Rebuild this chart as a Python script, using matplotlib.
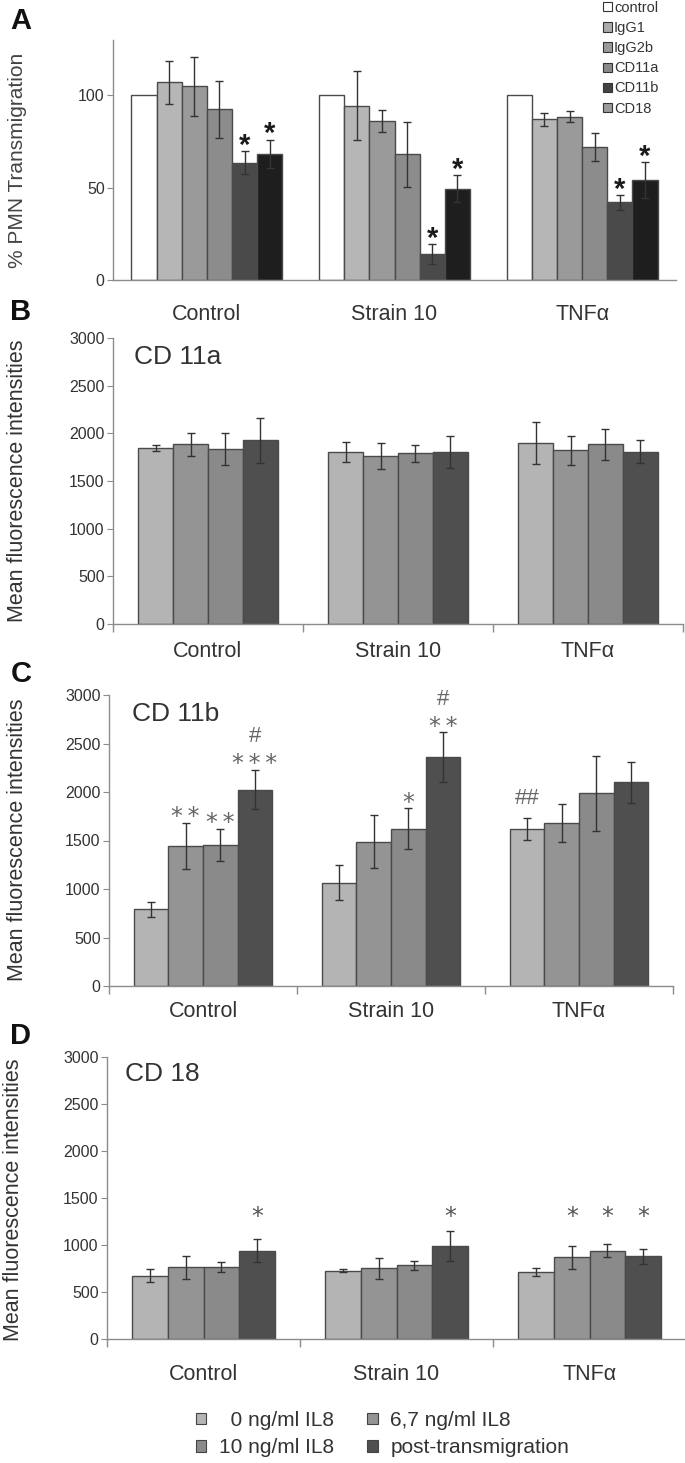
import matplotlib
matplotlib.use("Agg")
import matplotlib.pyplot as plt
from matplotlib.patches import Patch
import numpy as np

plt.rcParams['font.family'] = ['Liberation Sans', 'DejaVu Sans']

# ---------------- data ----------------
groups = ["Control", "Strain 10", "TNF\u03b1"]

# Panel A: % PMN transmigration
a_series = ["control", "IgG1", "IgG2b", "CD11a", "CD11b", "CD18"]
a_vals = [
    [100, 100, 100],        # control
    [107, 94.5, 87],        # IgG1
    [105, 86, 88.5],        # IgG2b
    [92.5, 68, 72],         # CD11a
    [63.5, 14, 42],         # CD11b
    [68.5, 49.5, 54],       # CD18
]
a_err = [
    [0, 0, 0],
    [11.5, 18.5, 3.5],
    [16, 6, 2.8],
    [15.5, 17.5, 7.5],
    [6.3, 5.3, 4],
    [7.6, 7.3, 9.8],
]
a_marks = [
    ["", "", ""],
    ["", "", ""],
    ["", "", ""],
    ["", "", ""],
    ["*", "*", "*"],
    ["*", "*", "*"],
]

series_il8 = ["0 ng/ml IL8", "6,7 ng/ml IL8", "10 ng/ml IL8", "post-transmigration"]

# Panel B: CD 11a
b_vals = [[1845, 1806, 1900], [1885, 1765, 1820], [1838, 1792, 1885], [1925, 1806, 1806]]
b_err = [[35, 105, 220], [120, 135, 150], [165, 90, 165], [235, 165, 120]]

# Panel C: CD 11b
c_vals = [[790, 1065, 1618], [1443, 1488, 1680], [1458, 1622, 1988], [2025, 2356, 2100]]
c_err = [[80, 180, 112], [238, 275, 195], [165, 208, 385], [205, 258, 212]]
c_stars = [["", "", ""], ["**", "", ""], ["**", "*", ""], ["***", "**", ""]]
c_hash = [["", "", "##"], ["", "", ""], ["", "", ""], ["#", "#", ""]]

# Panel D: CD 18
d_vals = [[675, 728, 713], [762, 752, 868], [765, 785, 940], [940, 990, 878]]
d_err = [[68, 15, 42], [125, 115, 122], [55, 50, 68], [120, 155, 78]]
d_marks = [["", "", ""], ["", "", "*"], ["", "", "*"], ["*", "*", "*"]]

# ---------------- style ----------------
W, H = 685, 1463
fig = plt.figure(figsize=(W / 100, H / 100), dpi=100)
TXT = '#333333'
SPINE = '#8c8c8c'
EDGE = '#4a4a4a'
ANN = '#666666'
a_colors = ['#ffffff', '#b6b6b6', '#9a9a9a', '#8c8c8c', '#4a4a4a', '#1e1e1e']
a_leg_colors = ['#ffffff', '#ababab', '#9a9a9a', '#8a8a8a', '#444444', '#9a9a9a']
il8_colors = ['#b4b4b4', '#949494', '#8a8a8a', '#4f4f4f']
STAR_FAMILY = ['DejaVu Sans']


def spaced(s):
    return '\u2009'.join(s)


def add_axes(left, right, top, bottom):
    return fig.add_axes([left / W, 1 - bottom / H, (right - left) / W, (bottom - top) / H])


def style_axes(ax, seps=True):
    for s in ['top', 'right']:
        ax.spines[s].set_visible(False)
    for s in ['left', 'bottom']:
        ax.spines[s].set_color(SPINE)
        ax.spines[s].set_linewidth(1.0)
    ax.set_xlim(-0.5, 2.5)
    ax.set_xticks(np.arange(len(groups)))
    ax.tick_params(axis='x', which='major', length=0, labelsize=15.5, colors=TXT)
    if seps:
        ax.set_xticks([-0.5, 0.5, 1.5, 2.5], minor=True)
        ax.tick_params(axis='x', which='minor', length=6, color=SPINE, width=1.0)
    ax.tick_params(axis='y', length=4, color=SPINE, labelsize=11.5, colors=TXT, pad=2)


x = np.arange(len(groups))

# ---------------- Panel A ----------------
axA = add_axes(113, 676, 40, 280)
nA = len(a_series)
wA = 0.134
for i in range(nA):
    xs = x + (i - (nA - 1) / 2) * wA
    axA.bar(xs, a_vals[i], wA, color=a_colors[i], edgecolor=EDGE, linewidth=1.0, zorder=2)
    errs = np.array(a_err[i])
    mask = errs > 0
    axA.errorbar(xs[mask], np.array(a_vals[i])[mask], yerr=errs[mask], fmt='none',
                 ecolor='#333333', elinewidth=1.0, capsize=3, capthick=1.0, zorder=3)
    for g in range(len(groups)):
        if a_marks[i][g]:
            axA.annotate(a_marks[i][g], (xs[g], a_vals[i][g] + a_err[i][g]),
                         xytext=(0, -2), textcoords='offset points', ha='center',
                         va='baseline', fontsize=21, fontweight='bold', color='#1a1a1a')
axA.set_ylim(0, 130)
axA.set_yticks([0, 50, 100])
style_axes(axA, seps=False)
axA.set_xticklabels(groups)
axA.tick_params(axis='x', pad=17)
fig.text(18 / W, 1 - 160 / H, "% PMN Transmigration", rotation=90, ha='center', va='center',
         fontsize=15, color='#444444')
handles = [Patch(facecolor=a_leg_colors[i], edgecolor='#333333', linewidth=0.8, label=a_series[i])
           for i in range(nA)]
fig.legend(handles=handles, loc='upper left', bbox_to_anchor=(603 / W, 1 - 1 / H), frameon=False,
           fontsize=10.5, handlelength=0.6, handleheight=0.6, handletextpad=0.15, labelspacing=0.42,
           labelcolor=TXT, borderaxespad=0, borderpad=0)


def il8_panel(ax, vals, errs):
    n = len(vals)
    w = 0.184
    pos = []
    for i in range(n):
        xs = x + (i - (n - 1) / 2) * w
        pos.append(xs)
        ax.bar(xs, vals[i], w, color=il8_colors[i], edgecolor=EDGE, linewidth=1.0, zorder=2)
        ax.errorbar(xs, vals[i], yerr=errs[i], fmt='none', ecolor='#333333', elinewidth=1.0,
                    capsize=3, capthick=1.0, zorder=3)
    ax.set_ylim(0, 3000)
    ax.set_yticks(np.arange(0, 3001, 500))
    style_axes(ax)
    ax.set_xticklabels(groups)
    return pos


# ---------------- Panel B ----------------
axB = add_axes(113, 683, 338, 624)
il8_panel(axB, b_vals, b_err)
axB.tick_params(axis='x', pad=12)
fig.text(134 / W, 1 - 357 / H, "CD 11a", ha='left', va='center', fontsize=19, color='#333333')
fig.text(18 / W, 1 - 481 / H, "Mean fluorescence intensities", rotation=90, ha='center',
         va='center', fontsize=15.5, color=TXT)

# ---------------- Panel C ----------------
axC = add_axes(109, 673, 695, 986)
posC = il8_panel(axC, c_vals, c_err)
axC.tick_params(axis='x', pad=11)
for i in range(len(c_vals)):
    for g in range(len(groups)):
        top = c_vals[i][g] + c_err[i][g]
        if c_stars[i][g]:
            axC.annotate(spaced(c_stars[i][g]), (posC[i][g], top), xytext=(0, -1),
                         textcoords='offset points', ha='center', va='baseline', fontsize=17,
                         color=ANN, family=STAR_FAMILY)
            if c_hash[i][g]:
                axC.annotate(c_hash[i][g], (posC[i][g], top), xytext=(0, 20),
                             textcoords='offset points', ha='center', va='baseline',
                             fontsize=16, color=ANN)
        elif c_hash[i][g]:
            axC.annotate(c_hash[i][g], (posC[i][g], top), xytext=(0, 10),
                         textcoords='offset points', ha='center', va='baseline', fontsize=16,
                         color=ANN)
fig.text(132 / W, 1 - 714 / H, "CD 11b", ha='left', va='center', fontsize=19, color='#333333')
fig.text(18 / W, 1 - 840 / H, "Mean fluorescence intensities", rotation=90, ha='center',
         va='center', fontsize=15.5, color=TXT)

# ---------------- Panel D ----------------
axD = add_axes(107, 686, 1057, 1339)
posD = il8_panel(axD, d_vals, d_err)
axD.tick_params(axis='x', pad=18)
level = max(max(v + e for v, e in zip(vr, er)) for vr, er in zip(d_vals, d_err))
for i in range(len(d_vals)):
    for g in range(len(groups)):
        if d_marks[i][g]:
            axD.annotate(d_marks[i][g], (posD[i][g], level), xytext=(0, 5),
                         textcoords='offset points', ha='center', va='baseline', fontsize=17,
                         color='#555555', family=STAR_FAMILY)
fig.text(125 / W, 1 - 1074 / H, "CD 18", ha='left', va='center', fontsize=19, color='#333333')
fig.text(14 / W, 1 - 1200 / H, "Mean fluorescence intensities", rotation=90, ha='center',
         va='center', fontsize=15.5, color=TXT)

# bottom legend
order = [0, 2, 1, 3]
labels = ["  0 ng/ml IL8", "6,7 ng/ml IL8", "10 ng/ml IL8", "post-transmigration"]
h2 = [Patch(facecolor=il8_colors[k], edgecolor='#444444', linewidth=0.8, label=labels[k]) for k in order]
fig.legend(handles=h2, loc='center left', bbox_to_anchor=(196 / W, 1 - 1434 / H), ncol=2,
           frameon=False, fontsize=15, handlelength=0.5, handleheight=0.5, handletextpad=0.6,
           columnspacing=1.6, labelspacing=0.4, labelcolor=TXT, borderpad=0, borderaxespad=0)

# panel letters
for lab, cx, cy in [("A", 21, 21), ("B", 21, 312), ("C", 21, 674), ("D", 21, 1036)]:
    fig.text(cx / W, 1 - cy / H, lab, ha='center', va='center', fontsize=21, fontweight='bold',
             color='#111111')

fig.savefig("out.png", dpi=100)
